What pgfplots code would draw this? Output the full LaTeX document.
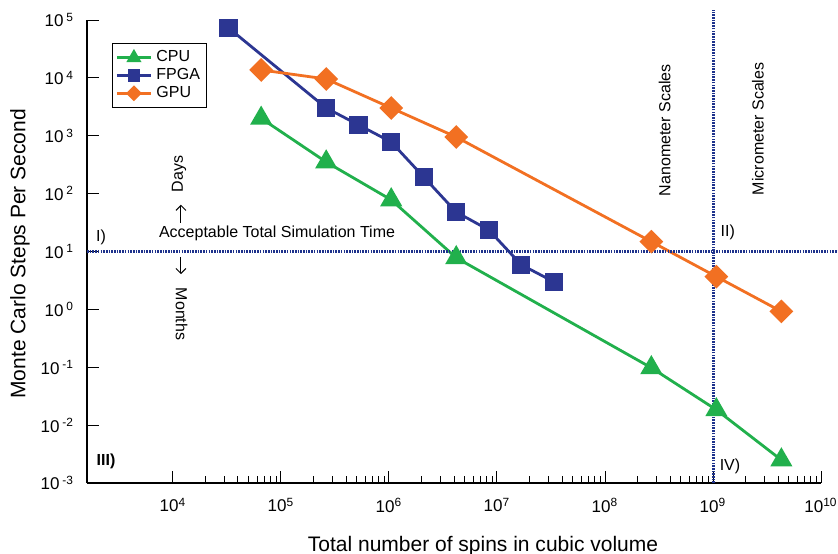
\documentclass[border=0pt]{standalone}
\usepackage{fontspec}
\setmainfont{Liberation Sans}
\usepackage{pgfplots}
\pgfplotsset{compat=1.18}
\usetikzlibrary{arrows.meta}

\definecolor{cpugreen}{RGB}{33,176,76}
\definecolor{fpgablue}{RGB}{44,54,146}
\definecolor{gpuorange}{RGB}{242,112,34}
\definecolor{refblue}{RGB}{30,50,140}

\newcommand{\annot}{\fontsize{8}{9.6}\selectfont}

\begin{document}
\begin{tikzpicture}
\begin{axis}[
    at={(0,0)}, anchor=south west,
    scale only axis,
    width=367pt, height=231.5pt,
    xmode=log, ymode=log,
    xmin=1600, xmax=1e10,
    ymin=1e-3, ymax=1e5,
    axis x line*=bottom, axis y line*=left,
    axis line style={line width=0.9pt, black},
    tick align=inside,
    major tick length=6pt, minor tick length=3.5pt,
    every tick/.style={black, line width=0.5pt},
    xtick={1e4,1e5,1e6,1e7,1e8,1e9,1e10},
    xticklabels={10\textsuperscript{4},10\textsuperscript{5},10\textsuperscript{6},10\textsuperscript{7},10\textsuperscript{8},10\textsuperscript{9},10\textsuperscript{10}},
    ytick={1e-3,1e-2,1e-1,1,10,100,1000,1e4,1e5},
    yticklabels={10\,\textsuperscript{-3},10\,\textsuperscript{-2},10\,\textsuperscript{-1},10\,\textsuperscript{0},10\,\textsuperscript{1},10\,\textsuperscript{2},10\,\textsuperscript{3},10\,\textsuperscript{4},10\,\textsuperscript{5}},
    yminorticks=false,
    ticklabel style={font=\fontsize{8.5}{10}\selectfont},
    xticklabel style={yshift=-4pt},
    yticklabel style={xshift=-3pt},
    xlabel={Total number of spins in cubic volume},
    ylabel={Monte Carlo Steps Per Second},
    every axis x label/.style={at={(axis description cs:0.5395,-0.147)}, anchor=base, font=\fontsize{10.5}{12}\selectfont},
    every axis y label/.style={at={(axis description cs:-0.0913,0.495)}, anchor=center, rotate=90, font=\fontsize{10.5}{12}\selectfont},
    legend style={at={(0.034,0.95)}, anchor=north west, draw=black, line width=0.5pt,
        font=\fontsize{8}{9}\selectfont, inner sep=1.5pt, row sep=-2.2pt, cells={anchor=west}},
    legend image post style={every mark/.append style={scale=0.6}},
    clip=false,
]

% CPU
\addplot[cpugreen, line width=1.4pt, mark=triangle*, mark size=5pt] coordinates {
    (65536, 2000) (262144, 352) (1048576, 78) (4194304, 7.8)
    (268435456, 0.098) (1073741824, 0.0184) (4294967296, 0.0025)
};
\addlegendentry{CPU}

% FPGA
\addplot[fpgablue, line width=1.4pt, mark=square*, mark size=3.9pt] coordinates {
    (32768, 72800) (262144, 3020) (524288, 1535) (1048576, 780)
    (2097152, 194) (4194304, 48) (8388608, 23.6) (16777216, 5.9) (33554432, 3.0)
};
\addlegendentry{FPGA}

% GPU
\addplot[gpuorange, line width=1.4pt, mark=square*, mark size=3.5pt, mark options={rotate=45}] coordinates {
    (65536, 13700) (262144, 9570) (1048576, 3020) (4194304, 950)
    (268435456, 14.8) (1073741824, 3.68) (4294967296, 0.92)
};
\addlegendentry{GPU}

% reference lines
\addplot[refblue, line width=1.5pt, dash pattern=on 0.8pt off 0.55pt, forget plot] coordinates {
    (1600, 10) (1.44e10, 10)
};
\addplot[refblue, line width=1.5pt, dash pattern=on 0.8pt off 0.55pt, forget plot] coordinates {
    (1e9, 1e-3) (1e9, 1.49e5)
};

% annotations
\node[font=\annot] at (rel axis cs:0.2589,0.540) {Acceptable Total Simulation Time};
\draw[-{Straight Barb[length=2.5pt,width=5pt]}, line width=0.5pt] (rel axis cs:0.128,0.562) -- (rel axis cs:0.128,0.601);
\draw[-{Straight Barb[length=2.5pt,width=5pt]}, line width=0.5pt] (rel axis cs:0.128,0.488) -- (rel axis cs:0.128,0.451);
\node[font=\annot, rotate=90] at (rel axis cs:0.1253,0.667) {Days};
\node[font=\annot, rotate=-90] at (rel axis cs:0.129,0.365) {Months};
\node[font=\annot, rotate=90] at (rel axis cs:0.787,0.762) {Nanometer Scales};
\node[font=\annot, rotate=90] at (rel axis cs:0.914,0.765) {Micrometer Scales};
\node[font=\annot] at (rel axis cs:0.0191,0.531) {I)};
\node[font=\annot] at (rel axis cs:0.873,0.542) {II)};
\node[font=\annot\bfseries] at (rel axis cs:0.0259,0.0464) {III)};
\node[font=\annot] at (rel axis cs:0.876,0.0367) {IV)};
\end{axis}
\pgfresetboundingbox
\path[use as bounding box] (-43.5pt,-35pt) rectangle (375.5pt,241.5pt);
\end{tikzpicture}
\end{document}
